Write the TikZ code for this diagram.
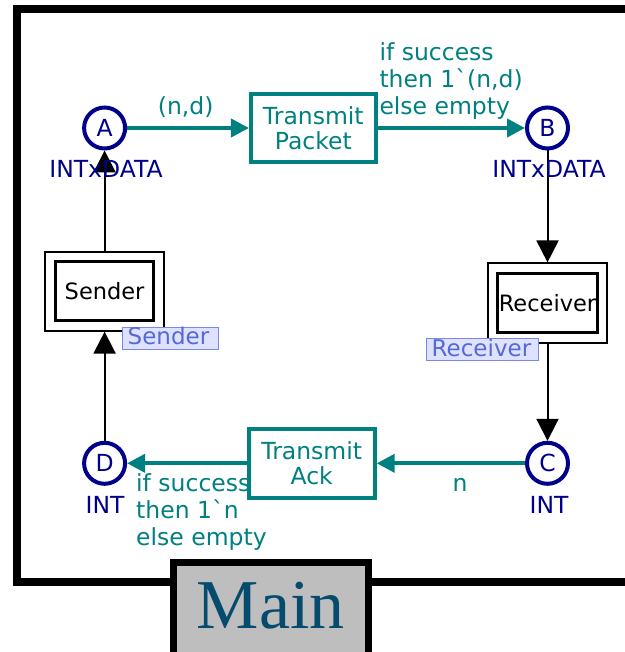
\documentclass[tikz,border=0pt]{standalone}
\usepackage{fontspec}
\newfontfamily\dv{DejaVu Sans}[Ligatures=TeXOff]
\newfontfamily\tabfont{Liberation Serif}
\usetikzlibrary{arrows.meta,fit}
\definecolor{cpnteal}{RGB}{0,128,128}
\definecolor{cpnnavy}{RGB}{0,0,139}
\definecolor{tagfill}{RGB}{222,226,255}
\definecolor{tagline}{RGB}{120,138,230}
\definecolor{tagtext}{RGB}{85,105,215}
\definecolor{tabgray}{RGB}{190,190,190}
\definecolor{tabtext}{RGB}{5,75,110}
\begin{document}
\begin{tikzpicture}[x=1pt,y=-1pt,
  font=\dv\fontsize{23.5}{26.7}\selectfont,
  place/.style={circle,draw=cpnnavy,line width=4pt,text=cpnnavy,minimum size=41pt,inner sep=0pt},
  colset/.style={text=cpnnavy,anchor=base,inner sep=0pt},
  trans/.style={rectangle,draw=cpnteal,line width=4pt,text=cpnteal,align=center,
    font=\dv\fontsize{23.5}{25}\selectfont,inner sep=0pt},
  subst/.style={rectangle,draw=black,line width=3pt,text=black,inner sep=0pt,
    font=\dv\fontsize{22.5}{25}\selectfont},
  substouter/.style={rectangle,draw=black,line width=2pt,inner sep=8.3pt},
  tag/.style={rectangle,draw=tagline,fill=tagfill,line width=1pt,text=tagtext,align=left,
    font=\dv\fontsize{23}{25}\selectfont,
    inner xsep=5pt,inner ysep=0.5pt,text height=17pt,text depth=4pt,anchor=north west},
  tealarc/.style={draw=cpnteal,line width=4pt,-{Triangle[length=18pt,width=18pt]}},
  blackarc/.style={draw=black,line width=2pt,-{Triangle[length=22pt,width=22pt]}},
  inscr/.style={text=cpnteal,inner sep=0pt,align=left},
]
\useasboundingbox (0,0) rectangle (624,652);

% page frame, open to the right
\draw[line width=8pt] (660,9) -- (16.7,9) -- (16.7,582) -- (660,582);

% places
\node[place] (A) at (104.6,128) {A};
\node[place] (B) at (547.5,128) {B};
\node[place] (C) at (547.5,463.3) {C};
\node[place] (D) at (104.6,463.3) {D};

% transitions
\node[trans,minimum width=124.7pt,minimum height=68.6pt] (tp) at (313.3,128) {Transmit\\Packet};
\node[trans,minimum width=126pt,minimum height=69.3pt] (ta) at (311.7,463.3) {Transmit\\Ack};

% substitution transitions
\node[subst,minimum width=98.7pt,minimum height=59.3pt] (senderin) at (104.6,291.2) {Sender};
\node[substouter,fit=(senderin)] (sender) {};
\node[subst,minimum width=99.3pt,minimum height=59.6pt] (receiverin) at (547.5,303) {Receiver};
\node[substouter,fit=(receiverin)] (receiver) {};

% arcs
\draw[tealarc] (A) -- (tp);
\draw[tealarc] (tp) -- (B);
\draw[blackarc] (B) -- (receiver);
\draw[blackarc] (receiver) -- (C);
\draw[tealarc] (C) -- (ta);
\draw[tealarc] (ta) -- (D);
\draw[blackarc] (D) -- (sender);
\draw[blackarc] (sender) -- (A);

% colour sets
\node[colset] (Atype) at (106,178) {INTxDATA};
\node[colset] (Btype) at (549,178) {INTxDATA};
\node[colset] (Ctype) at (549,513) {INT};
\node[colset] (Dtype) at (105,513) {INT};

% arc inscriptions (base anchor sits on the last line)
\node[inscr,anchor=base] (insnd) at (185.7,115) {(n,d)};
\node[inscr,anchor=base west] (instp) at (379.3,114.3) {if success\\then 1`(n,d)\\else empty};
\node[inscr,anchor=base] (insn) at (460,491.7) {n};
\node[inscr,anchor=base west] (insta) at (136,545) {if success\\then 1`n\\else empty};

% hierarchy tags
\node[tag,text width=86pt] (sendertag) at (122.2,326.5) {Sender};
\node[tag,text width=101.6pt] (receivertag) at (426.2,338.2) {Receiver};

% page tab
\draw[line width=7.3pt,fill=tabgray] (173.7,700) rectangle (368.7,562.3);
\node[text=tabtext,font=\tabfont\fontsize{70}{70}\selectfont,anchor=base,inner sep=0pt]
  (pagename) at (270.8,628.3) {Main};
\end{tikzpicture}
\end{document}
